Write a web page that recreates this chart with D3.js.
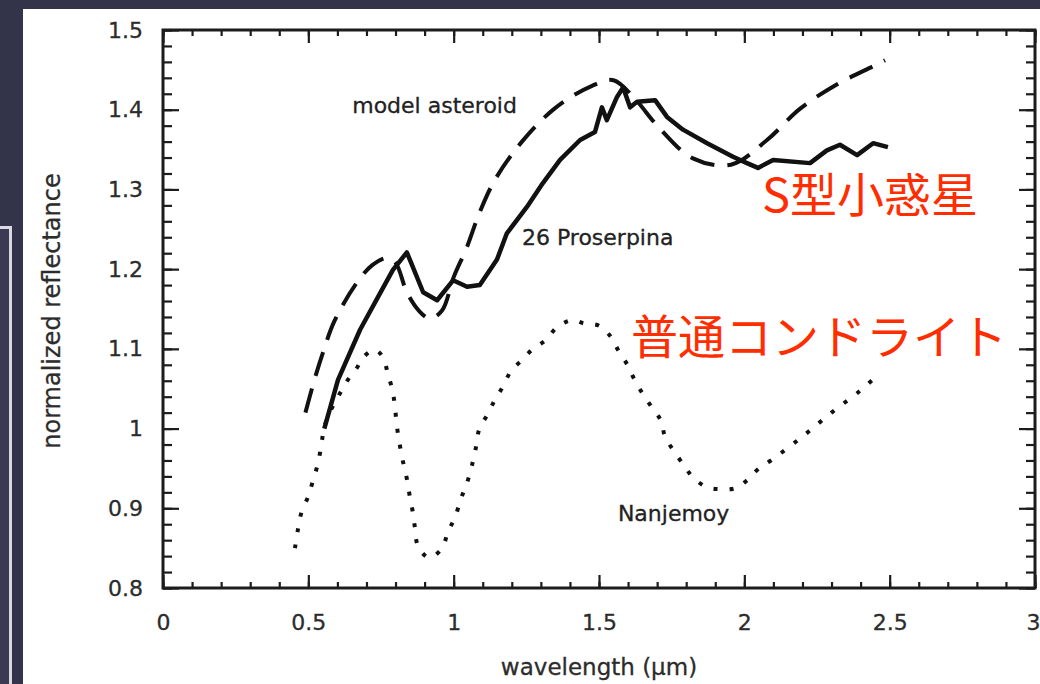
<!DOCTYPE html>
<html>
<head>
<meta charset="utf-8">
<script src="https://cdn.jsdelivr.net/npm/d3@7"></script>
<style>
html,body{margin:0;padding:0;background:#34344a;overflow:hidden;}
svg{display:block;}
</style>
</head>
<body>
<svg></svg>
<script>
const width = 1040;
const height = 684;
const plot = {left: 163, right: 1035, top: 30, bottom: 588};

// axis ticks
const xTicks = [0, 0.5, 1, 1.5, 2, 2.5, 3];
const xTickLabels = ['0', '0.5', '1', '1.5', '2', '2.5', '3'];
const yTicks = [0.8, 0.9, 1, 1.1, 1.2, 1.3, 1.4, 1.5];
const yTickLabels = ['0.8', '0.9', '1', '1.1', '1.2', '1.3', '1.4', '1.5'];

// 26 Proserpina (solid)
const proserpinaWl = [0.555, 0.602, 0.678, 0.747, 0.791, 0.839, 0.895, 0.943, 0.998, 1.046, 1.09, 1.149, 1.183, 1.252, 1.307, 1.366, 1.435, 1.486, 1.51, 1.527, 1.562, 1.583, 1.607, 1.631, 1.693, 1.734, 1.789, 1.872, 1.961, 2.009, 2.047, 2.099, 2.226, 2.284, 2.329, 2.388, 2.443, 2.494];
const proserpinaRef = [1.0, 1.061, 1.124, 1.170, 1.199, 1.221, 1.171, 1.161, 1.186, 1.178, 1.180, 1.212, 1.245, 1.278, 1.308, 1.337, 1.362, 1.372, 1.403, 1.387, 1.416, 1.428, 1.403, 1.410, 1.412, 1.391, 1.375, 1.358, 1.341, 1.333, 1.327, 1.337, 1.333, 1.349, 1.356, 1.343, 1.358, 1.353];

// model asteroid (dashed)
const modelWl = [0.49, 0.52, 0.55, 0.59, 0.667, 0.72, 0.77, 0.80, 0.839, 0.88, 0.918, 0.96, 1.0, 1.046, 1.087, 1.142, 1.235, 1.349, 1.476, 1.55, 1.62, 1.71, 1.823, 1.954, 2.078, 2.191, 2.315, 2.446, 2.484];
const modelRef = [1.02, 1.06, 1.095, 1.135, 1.183, 1.205, 1.214, 1.208, 1.171, 1.148, 1.138, 1.148, 1.19, 1.228, 1.269, 1.312, 1.36, 1.402, 1.43, 1.437, 1.415, 1.376, 1.339, 1.331, 1.362, 1.401, 1.431, 1.455, 1.462];

// Nanjemoy (dotted)
const nanjemoyWl = [0.454, 0.465, 0.478, 0.5, 0.516, 0.533, 0.545, 0.555, 0.58, 0.61, 0.636, 0.667, 0.688, 0.729, 0.757, 0.774, 0.79, 0.798, 0.805, 0.815, 0.826, 0.839, 0.849, 0.86, 0.867, 0.877, 0.915, 0.96, 0.98, 1.005, 1.025, 1.046, 1.063, 1.077, 1.087, 1.115, 1.142, 1.17, 1.197, 1.235, 1.273, 1.317, 1.355, 1.407, 1.448, 1.5, 1.541, 1.565, 1.596, 1.62, 1.648, 1.679, 1.713, 1.727, 1.755, 1.792, 1.823, 1.868, 1.916, 1.968, 2.009, 2.047, 2.095, 2.2, 2.3, 2.4, 2.467];
const nanjemoyRef = [0.85, 0.875, 0.897, 0.915, 0.935, 0.956, 0.98, 1.002, 1.025, 1.045, 1.061, 1.076, 1.089, 1.099, 1.089, 1.068, 1.047, 1.027, 1.002, 0.979, 0.958, 0.937, 0.915, 0.894, 0.875, 0.853, 0.838, 0.85, 0.87, 0.889, 0.912, 0.932, 0.954, 0.977, 0.998, 1.017, 1.036, 1.053, 1.072, 1.086, 1.1, 1.111, 1.127, 1.136, 1.132, 1.129, 1.115, 1.099, 1.081, 1.063, 1.045, 1.028, 1.01, 0.99, 0.973, 0.954, 0.939, 0.927, 0.924, 0.925, 0.935, 0.949, 0.961, 0.99, 1.02, 1.048, 1.07];

var svg;
var xScale;
var yScale;

function toPoints(wl, ref){
	return wl.map((w, i) => [w, ref[i]]);
}

function drawBackground(){
	// slide behind the figure
	svg.append('rect').attr('width', width).attr('height', height).attr('fill', '#33334a');
	svg.append('rect')
	.attr('x', -10).attr('y', 227.5).attr('width', 20.5).attr('height', 480)
	.attr('fill', '#3b3a52').attr('stroke', '#d9d9e2').attr('stroke-width', 3);
	svg.append('rect')
	.attr('x', 23).attr('y', 9).attr('width', width - 23).attr('height', height - 9)
	.attr('fill', '#fff');
}

function drawAxes(){
	var g = svg.append('g');
	var minorX = d3.range(0, 3.001, 0.1);
	var minorY = d3.range(0.8, 1.501, 0.02);

	function style(sel){
		sel.select('.domain').remove();
		sel.selectAll('line').attr('stroke', '#1c1c1c').attr('stroke-width', 2.2);
		sel.selectAll('text')
		.attr('font-family', 'DejaVu Sans, sans-serif').attr('font-size', 22)
		.attr('fill', '#2c2c2c').attr('stroke', '#2c2c2c').attr('stroke-width', 0.3);
	}

	// bottom
	g.append('g').attr('transform', `translate(0,${plot.bottom})`)
	.call(d3.axisBottom(xScale).tickValues(minorX).tickSize(-6).tickFormat(''))
	.call(style);
	var bottom = g.append('g').attr('transform', `translate(0,${plot.bottom})`)
	.call(d3.axisBottom(xScale).tickValues(xTicks).tickSize(-13).tickPadding(26)
		.tickFormat((d, i) => xTickLabels[i]))
	.call(style);
	// last label sits against the page edge
	bottom.selectAll('text').filter(d => d === 3).attr('text-anchor', 'end').attr('dx', 5);
	// top
	g.append('g').attr('transform', `translate(0,${plot.top})`)
	.call(d3.axisTop(xScale).tickValues(minorX).tickSize(-6).tickFormat(''))
	.call(style);
	g.append('g').attr('transform', `translate(0,${plot.top})`)
	.call(d3.axisTop(xScale).tickValues(xTicks).tickSize(-13).tickFormat(''))
	.call(style);
	// left
	g.append('g').attr('transform', `translate(${plot.left},0)`)
	.call(d3.axisLeft(yScale).tickValues(minorY).tickSize(-9).tickFormat(''))
	.call(style);
	g.append('g').attr('transform', `translate(${plot.left},0)`)
	.call(d3.axisLeft(yScale).tickValues(yTicks).tickSize(-16).tickPadding(20)
		.tickFormat((d, i) => yTickLabels[i]))
	.call(style);
	// right
	g.append('g').attr('transform', `translate(${plot.right},0)`)
	.call(d3.axisRight(yScale).tickValues(minorY).tickSize(-9).tickFormat(''))
	.call(style);
	g.append('g').attr('transform', `translate(${plot.right},0)`)
	.call(d3.axisRight(yScale).tickValues(yTicks).tickSize(-16).tickFormat(''))
	.call(style);

	// frame
	g.append('rect')
	.attr('x', plot.left).attr('y', plot.top)
	.attr('width', plot.right - plot.left).attr('height', plot.bottom - plot.top)
	.attr('fill', 'none').attr('stroke', '#1c1c1c').attr('stroke-width', 3);

	// axis titles
	var titles = g.append('g')
	.attr('font-family', 'DejaVu Sans, sans-serif').attr('font-size', 23)
	.attr('fill', '#2c2c2c').attr('stroke', '#2c2c2c').attr('stroke-width', 0.3);
	titles.append('text')
	.attr('x', (plot.left + plot.right) / 2).attr('y', 675)
	.attr('text-anchor', 'middle')
	.text('wavelength (µm)');
	titles.append('text')
	.attr('transform', `translate(60,311) rotate(-90)`)
	.attr('text-anchor', 'middle').attr('font-size', 24)
	.text('normalized reflectance');
}

function drawLines(){
	var g = svg.append('g');
	var smooth = d3.line().x(d => xScale(d[0])).y(d => yScale(d[1])).curve(d3.curveCatmullRom);
	var rough = d3.line().x(d => xScale(d[0])).y(d => yScale(d[1]));

	g.append('path').datum(toPoints(nanjemoyWl, nanjemoyRef))
	.attr('d', smooth).attr('fill', 'none')
	.attr('stroke', '#111').attr('stroke-width', 4).attr('stroke-dasharray', '4,12');

	g.append('path').datum(toPoints(modelWl, modelRef))
	.attr('d', smooth).attr('fill', 'none')
	.attr('stroke', '#111').attr('stroke-width', 4).attr('stroke-dasharray', '25,13');

	g.append('path').datum(toPoints(proserpinaWl, proserpinaRef))
	.attr('d', rough).attr('fill', 'none')
	.attr('stroke', '#111').attr('stroke-width', 4.5).attr('stroke-linejoin', 'round');
}

function drawLabels(){
	var g = svg.append('g')
	.attr('font-family', 'DejaVu Sans, sans-serif').attr('font-size', 22)
	.attr('fill', '#222').attr('stroke', '#222').attr('stroke-width', 0.3);
	g.append('text').attr('x', xScale(0.651)).attr('y', yScale(1.396)).text('model asteroid');
	g.append('text').attr('x', xScale(1.235)).attr('y', yScale(1.230)).text('26 Proserpina');
	g.append('text').attr('x', xScale(1.565)).attr('y', yScale(0.884)).text('Nanjemoy');

	var jp = svg.append('g')
	.attr('font-family', '"Noto Sans CJK JP", sans-serif').attr('font-size', 47).attr('fill', '#ff2d00');
	jp.append('text').attr('x', 762).attr('y', 212).text('S型小惑星');
	jp.append('text').attr('x', 631).attr('y', 354).text('普通コンドライト');
}

function init(){
	svg = d3.select('svg').attr('width', width).attr('height', height);

	xScale = d3.scaleLinear().domain([0, 3]).range([plot.left, plot.right]);
	yScale = d3.scaleLinear().domain([0.8, 1.5]).range([plot.bottom, plot.top]);

	drawBackground();
	drawAxes();
	drawLines();
	drawLabels();
}

init();
</script>
</body>
</html>
